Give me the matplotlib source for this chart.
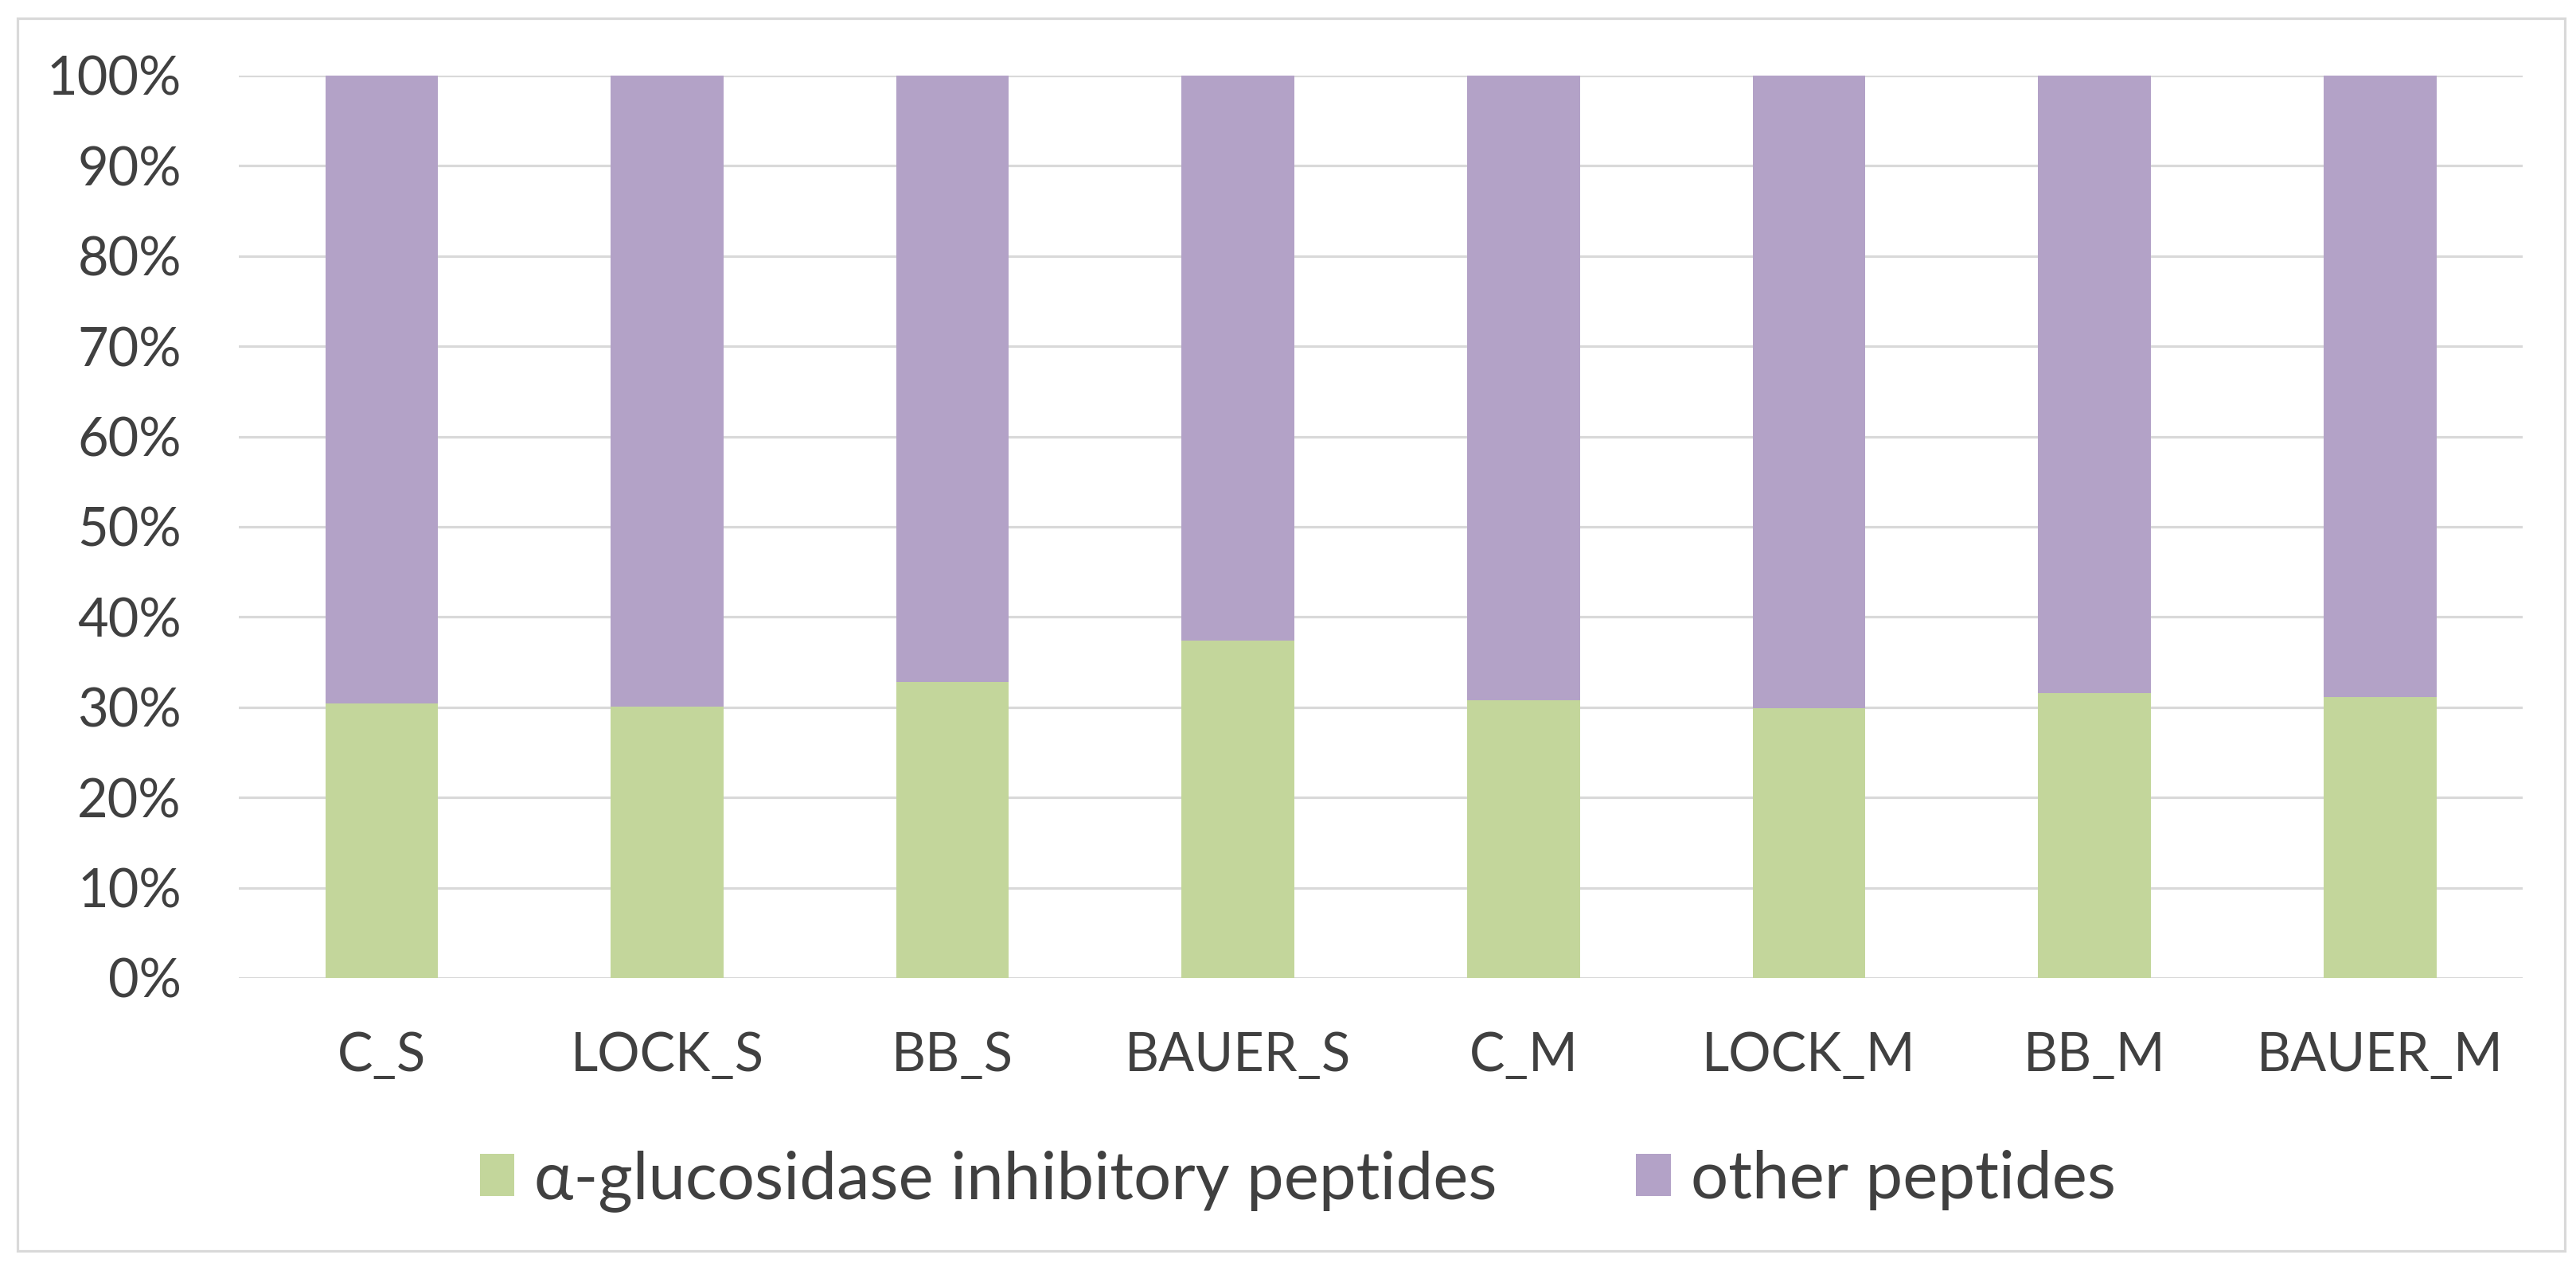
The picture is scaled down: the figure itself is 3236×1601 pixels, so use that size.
import matplotlib.pyplot as plt
import numpy as np
from matplotlib.patches import Rectangle
from matplotlib.ticker import PercentFormatter

plt.rcParams['font.family'] = ['Lato', 'DejaVu Sans']

categories = ['C_S', 'LOCK_S', 'BB_S', 'BAUER_S', 'C_M', 'LOCK_M', 'BB_M', 'BAUER_M']
inhibitory = [30.4, 30.1, 32.8, 37.4, 30.8, 29.9, 31.6, 31.1]
other = [100 - v for v in inhibitory]

green = '#C3D69B'
purple = '#B3A2C7'
text_color = '#404040'
grid_color = '#D9D9D9'

fig = plt.figure(figsize=(32.37, 16.01), dpi=100)
ax = fig.add_axes([0.0927, 0.2324, 0.8863, 0.7083])

x = np.arange(len(categories))
ax.bar(x, inhibitory, width=0.395, color=green, label='α-glucosidase inhibitory peptides', zorder=3)
ax.bar(x, other, width=0.395, bottom=inhibitory, color=purple, label='other peptides', zorder=3)

ax.set_xlim(-0.5, len(categories) - 0.5)
ax.set_ylim(0, 100)
ax.set_yticks(np.arange(0, 101, 10))
ax.yaxis.set_major_formatter(PercentFormatter(decimals=0))
ax.set_xticks(x)
ax.set_xticklabels(categories)

ax.grid(axis='y', color=grid_color, linewidth=2.3, zorder=0)
ax.set_axisbelow(True)
for s in ax.spines.values():
    s.set_visible(False)
ax.tick_params(axis='both', length=0, labelsize=48, colors=text_color)
ax.tick_params(axis='x', pad=48)
ax.tick_params(axis='y', pad=52)

leg = fig.legend(loc='center', bbox_to_anchor=(0.5036, 0.073), ncol=2, frameon=False,
                 fontsize=60, handlelength=0.52, handleheight=0.6, handletextpad=0.3,
                 columnspacing=2.1, labelcolor=text_color)

fig.add_artist(Rectangle((0.0068, 0.0181), 0.9886, 0.9675, transform=fig.transFigure,
                         fill=False, edgecolor=grid_color, linewidth=2.3))

plt.savefig('out.png', dpi=100)
